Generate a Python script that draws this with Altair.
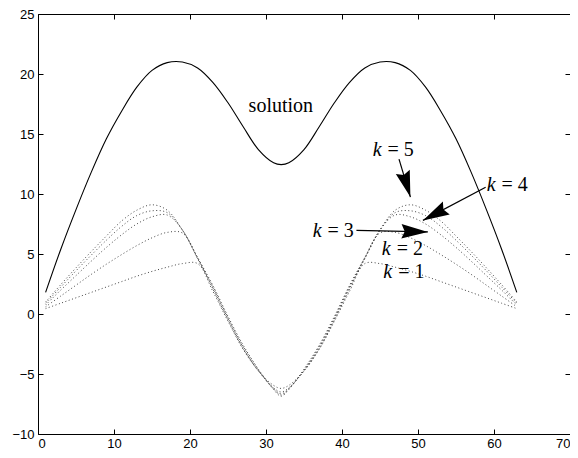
import math
import altair as alt
import pandas as pd

# ---------------- data ----------------
xs = [1, 3, 5, 7, 9, 11, 13, 15, 17, 19, 21, 23, 25, 27, 29, 31, 32,
      33, 35, 37, 39, 41, 43, 45, 47, 49, 51, 53, 55, 57, 59, 61, 63]

solution = [1.8, 5.4, 8.7, 11.8, 14.6, 16.9, 18.9, 20.3, 20.95, 21.0, 20.5, 19.3, 17.6, 15.6, 13.7, 12.6, 12.45,
            12.6, 13.7, 15.6, 17.6, 19.3, 20.5, 21.0, 20.95, 20.3, 18.9, 16.9, 14.6, 11.8, 8.7, 5.4, 1.8]

k5 = [1.0, 2.45, 3.85, 5.2, 6.5, 7.75, 8.65, 9.1, 8.65, 7.0, 4.7, 2.4, -0.2, -2.6, -4.6, -6.3, -6.85,
      -6.3, -4.6, -2.6, -0.2, 2.4, 4.7, 7.0, 8.65, 9.1, 8.65, 7.75, 6.5, 5.2, 3.85, 2.45, 1.0]
k4 = [0.9, 2.25, 3.6, 4.9, 6.15, 7.3, 8.2, 8.6, 8.45, 7.0, 4.65, 2.3, -0.3, -2.7, -4.65, -6.25, -6.75,
      -6.25, -4.65, -2.7, -0.3, 2.3, 4.65, 7.0, 8.45, 8.6, 8.2, 7.3, 6.15, 4.9, 3.6, 2.25, 0.9]
k3 = [0.75, 2.0, 3.2, 4.4, 5.55, 6.6, 7.5, 8.1, 8.25, 7.0, 4.6, 2.2, -0.4, -2.8, -4.7, -6.2, -6.65,
      -6.2, -4.7, -2.8, -0.4, 2.2, 4.6, 7.0, 8.25, 8.1, 7.5, 6.6, 5.55, 4.4, 3.2, 2.0, 0.75]
k2 = [0.6, 1.5, 2.4, 3.3, 4.15, 4.95, 5.7, 6.35, 6.8, 6.75, 4.7, 2.1, -0.5, -2.9, -4.75, -6.15, -6.5,
      -6.15, -4.75, -2.9, -0.5, 2.1, 4.7, 6.75, 6.8, 6.35, 5.7, 4.95, 4.15, 3.3, 2.4, 1.5, 0.6]
k1 = [0.45, 0.9, 1.35, 1.8, 2.25, 2.7, 3.15, 3.55, 3.9, 4.2, 4.2, 1.9, -0.6, -2.95, -4.75, -5.95, -6.2,
      -5.95, -4.75, -2.95, -0.6, 1.9, 4.2, 4.2, 3.9, 3.55, 3.15, 2.7, 2.25, 1.8, 1.35, 0.9, 0.45]

x_ticks = [0, 10, 20, 30, 40, 50, 60, 70]
y_ticks = [-10, -5, 0, 5, 10, 15, 20, 25]

# text annotations (data coordinates)
label_names = ["5", "4", "3", "2", "1"]
label_x = [45.6, 60.6, 37.7, 46.8, 47.0]
label_y = [13.17, 10.27, 6.43, 4.9, 2.97]

solution_label_x = [31.95]
solution_label_y = [16.84]

# arrows: start -> tip
arrow_x1 = [47.5, 58.9, 41.9]
arrow_y1 = [12.9, 10.57, 6.97]
arrow_x2 = [49.0, 50.65, 51.3]
arrow_y2 = [9.74, 7.8, 6.84]

# ---------------- chart ----------------
W, H = 532, 420
XMIN, XMAX, YMIN, YMAX = 0, 70, -10, 25

xs_scale = alt.Scale(domain=[XMIN, XMAX], nice=False, zero=False)
ys_scale = alt.Scale(domain=[YMIN, YMAX], nice=False, zero=False)

SANS = "Liberation Sans"
SERIF = "Liberation Serif"

sol_df = pd.DataFrame({"x": xs, "y": solution})
k_df = pd.concat([
    pd.DataFrame({"x": xs, "y": vals, "k": name})
    for name, vals in [("1", k1), ("2", k2), ("3", k3), ("4", k4), ("5", k5)]
])
lab_df = pd.DataFrame({"x": label_x, "y": label_y, "n": ["= " + s for s in label_names]})
sol_lab_df = pd.DataFrame({"x": solution_label_x, "y": solution_label_y, "t": ["solution"]})

sx = W / (XMAX - XMIN)
sy = H / (YMAX - YMIN)
angles = []
for a, b, c, d in zip(arrow_x1, arrow_y1, arrow_x2, arrow_y2):
    dxp = (c - a) * sx
    dyp = -(d - b) * sy
    angles.append(math.degrees(math.atan2(dxp, -dyp)) % 360)
arr_df = pd.DataFrame({"x1": arrow_x1, "y1": arrow_y1, "x2": arrow_x2, "y2": arrow_y2, "ang": angles})


def ax_labels(orient):
    horizontal = orient in ("bottom", "top")
    return alt.Axis(orient=orient, values=(x_ticks if horizontal else y_ticks),
                    ticks=False, tickSize=0, domain=False, grid=False, title=None,
                    labelFont=SANS, labelFontSize=13, labelColor="black",
                    labelFlush=horizontal, labelFlushOffset=0,
                    labelOverlap=False,
                    labelPadding=(3 if horizontal else 4), format="d")


def ax_ticks(orient, offset, vals):
    return alt.Axis(orient=orient, offset=offset, values=vals, labels=False, ticks=True,
                    tickSize=5, tickColor="black", tickWidth=1, domain=False, grid=False, title=None)


solution_layer = alt.Chart(sol_df).mark_line(color="black", strokeWidth=1.1, interpolate="catmull-rom").encode(
    x=alt.X("x:Q", scale=xs_scale, axis=ax_labels("bottom")),
    y=alt.Y("y:Q", scale=ys_scale, axis=ax_labels("left")),
)

k_layer = alt.Chart(k_df).mark_line(color="#444444", strokeWidth=1, strokeDash=[1, 2.5],
                                    interpolate="catmull-rom").encode(
    x=alt.X("x:Q", scale=xs_scale, axis=ax_ticks("top", -H, x_ticks)),
    y=alt.Y("y:Q", scale=ys_scale, axis=ax_ticks("right", -W, y_ticks)),
    detail="k:N",
)

k_text = alt.Chart(lab_df).mark_text(font=SERIF, fontSize=20, fontStyle="italic", align="right",
                                     baseline="alphabetic", dx=-3, color="black").encode(
    x=alt.X("x:Q", scale=xs_scale, axis=ax_ticks("bottom", -H, x_ticks)),
    y=alt.Y("y:Q", scale=ys_scale, axis=ax_ticks("left", -W, y_ticks)),
    text=alt.value("k"),
)

eq_text = alt.Chart(lab_df).mark_text(font=SERIF, fontSize=20, align="left",
                                      baseline="alphabetic", dx=3, color="black").encode(
    x=alt.X("x:Q", scale=xs_scale, axis=None),
    y=alt.Y("y:Q", scale=ys_scale, axis=None),
    text="n:N",
)

sol_text = alt.Chart(sol_lab_df).mark_text(font=SERIF, fontSize=20, align="center",
                                           baseline="alphabetic", color="black").encode(
    x=alt.X("x:Q", scale=xs_scale, axis=None),
    y=alt.Y("y:Q", scale=ys_scale, axis=None),
    text="t:N",
)

arrow_lines = alt.Chart(arr_df).mark_rule(color="black", strokeWidth=1.2).encode(
    x=alt.X("x1:Q", scale=xs_scale, axis=None),
    y=alt.Y("y1:Q", scale=ys_scale, axis=None),
    x2="x2:Q",
    y2="y2:Q",
)

HEAD = "M0,0L0.55,2L0,1.75L-0.55,2Z"
arrow_heads = alt.Chart(arr_df).mark_point(shape=HEAD, filled=True, size=700, color="black",
                                           opacity=1, strokeWidth=0).encode(
    x=alt.X("x2:Q", scale=xs_scale, axis=None),
    y=alt.Y("y2:Q", scale=ys_scale, axis=None),
    angle=alt.Angle("ang:Q", scale=None),
)

chart = alt.layer(
    solution_layer, k_layer, k_text, eq_text, sol_text, arrow_lines, arrow_heads
).resolve_axis(x="independent", y="independent").properties(
    width=W, height=H,
    autosize=alt.AutoSizeParams(type="none"),
    padding={"left": 30, "top": 6, "right": 0, "bottom": 16},
    background="white",
).configure_view(stroke="black", strokeWidth=1)

chart.save("out.html", embed_options={"renderer": "svg", "actions": False})
